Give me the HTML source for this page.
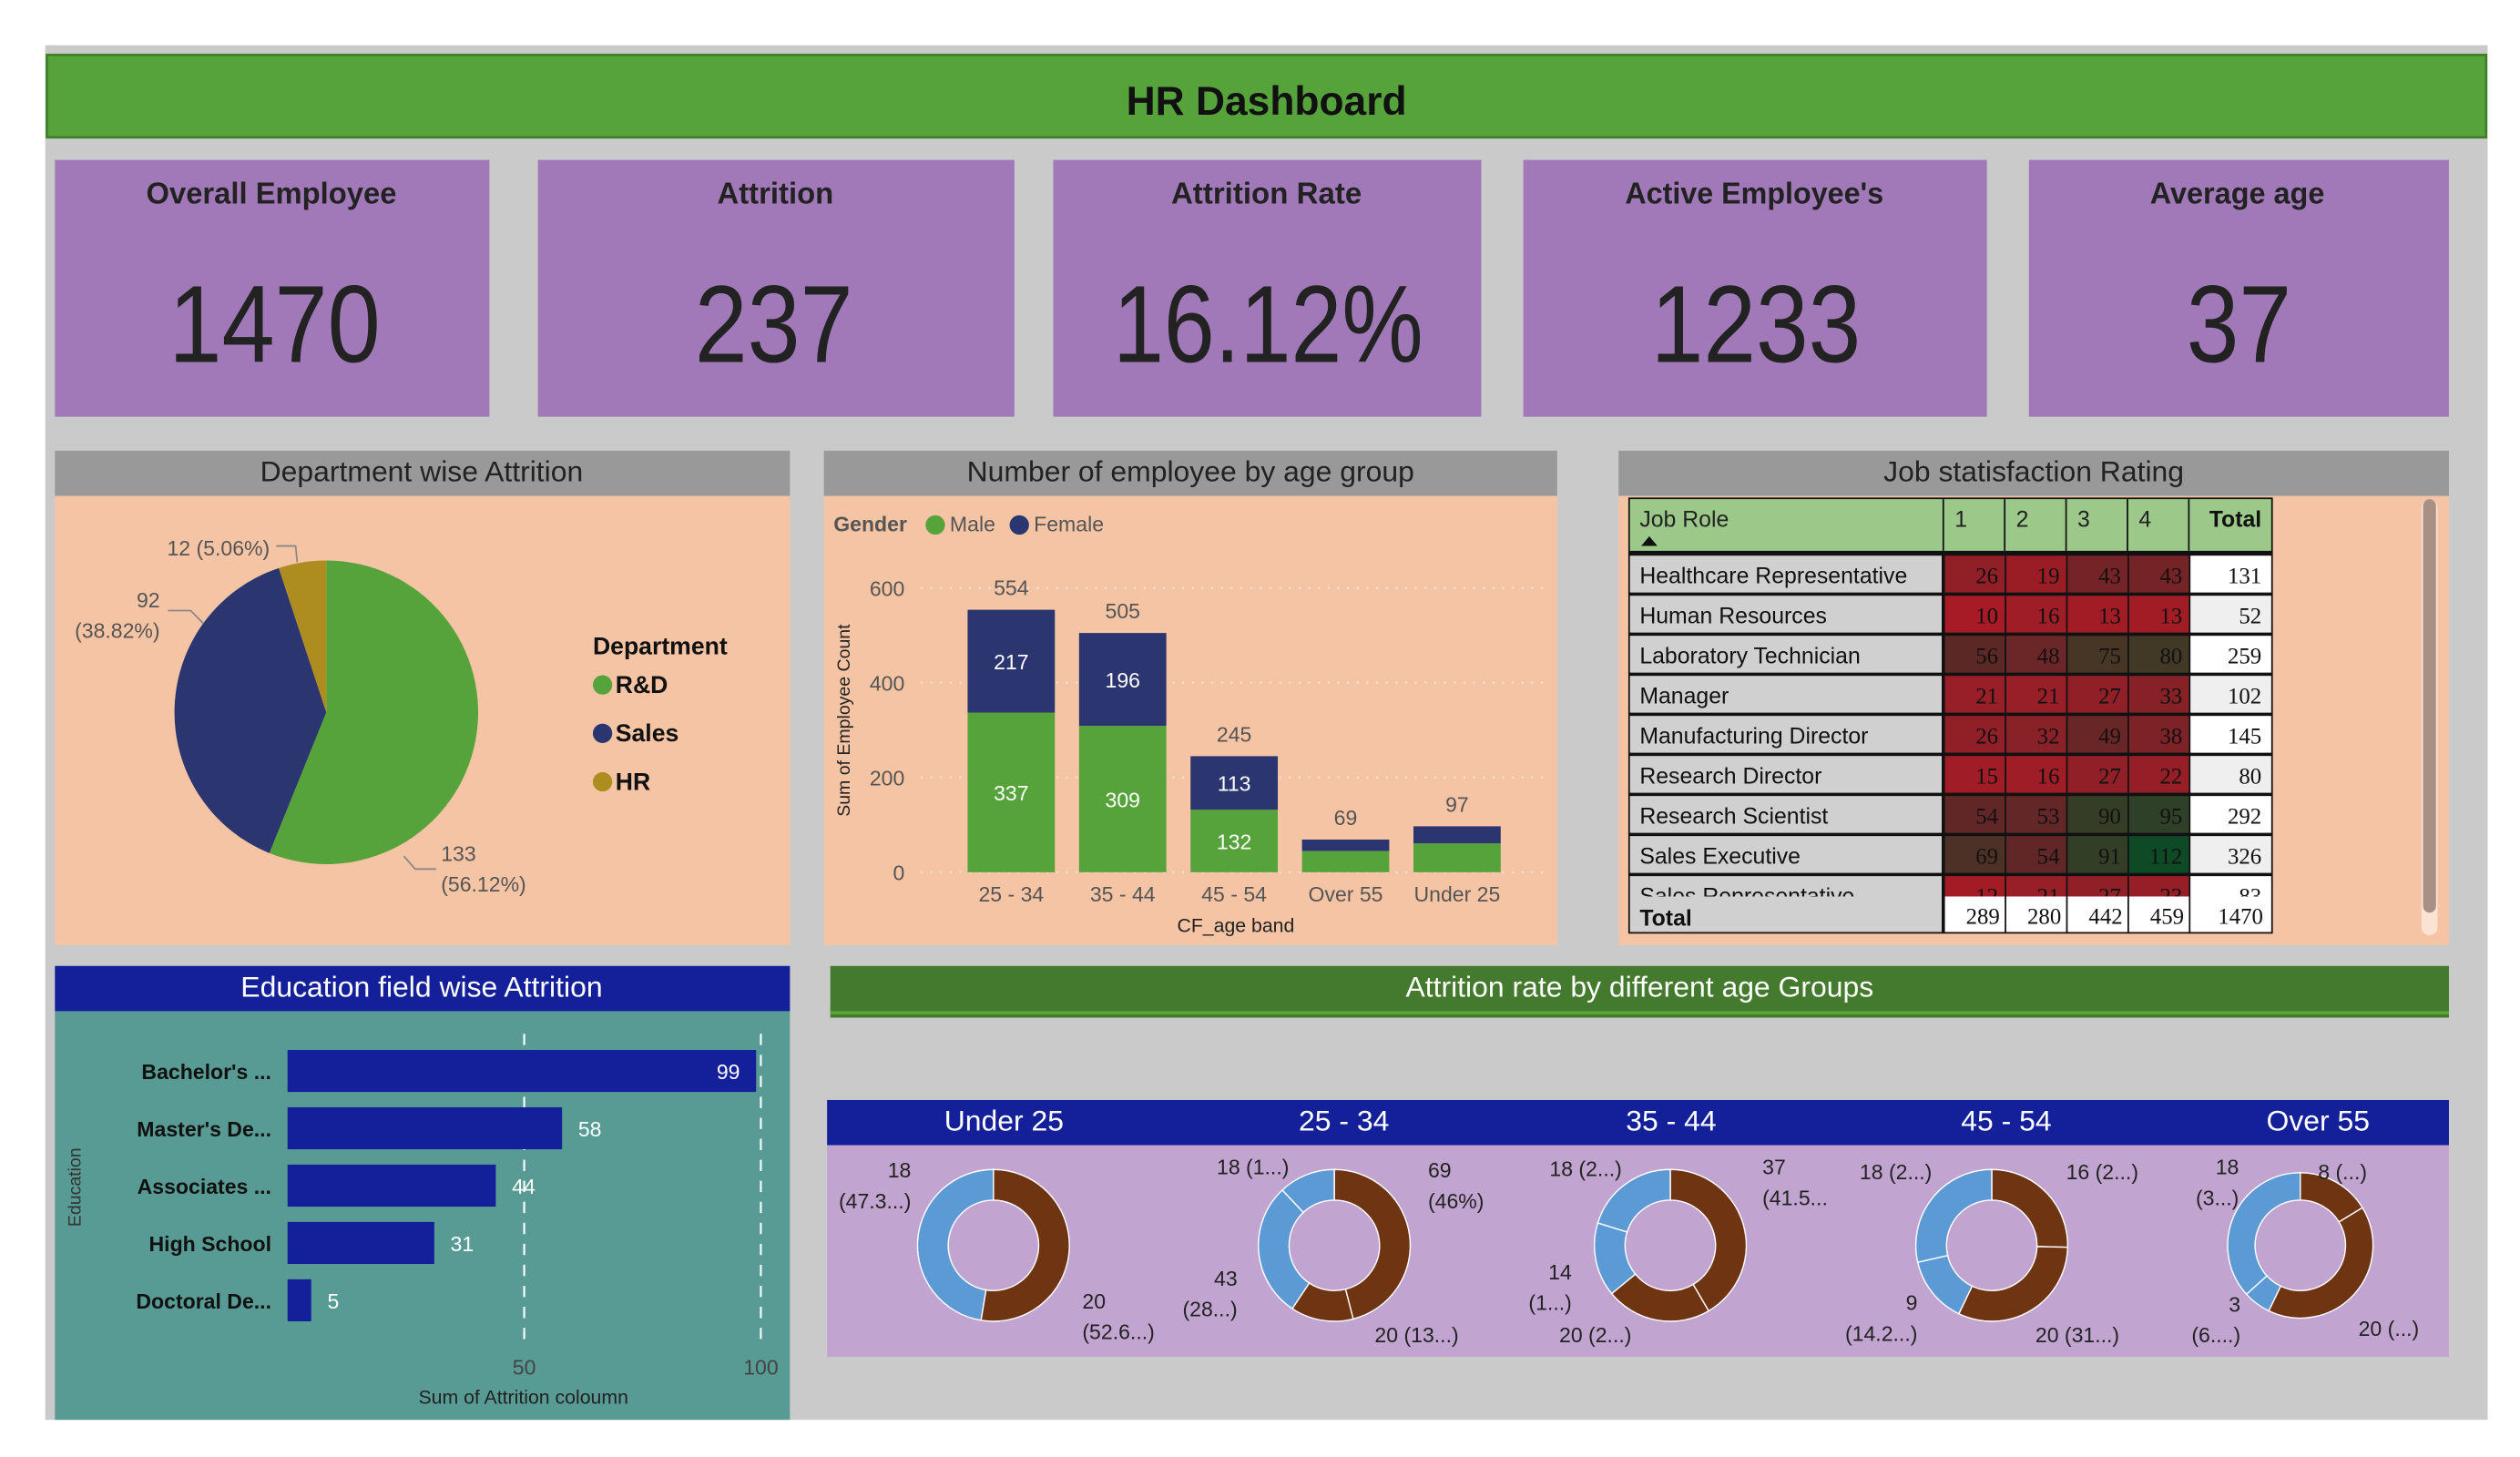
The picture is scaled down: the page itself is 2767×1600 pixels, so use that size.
<!DOCTYPE html>
<html><head><meta charset="utf-8"><title>HR Dashboard</title>
<style>
html,body{margin:0;padding:0;background:#fff;width:2767px;height:1600px;overflow:hidden}
svg{display:block;font-family:"Liberation Sans",sans-serif}
</style></head>
<body>
<svg id="dash" xmlns="http://www.w3.org/2000/svg" width="2767" height="1600" viewBox="0 0 1560 902" preserveAspectRatio="none">
  <rect x="28" y="28" width="1512" height="851" fill="#cacaca"/>
  <g>
    <rect x="29" y="34" width="1510" height="51" fill="#57a33b" stroke="#3f7f2a" stroke-width="1.5"/>
    <text x="784" y="71" text-anchor="middle" font-size="25" font-weight="bold" fill="#111">HR Dashboard</text>
  </g>
  <g>
    <rect x="34" y="99" width="269" height="159" fill="#a279b8"/>
    <text x="168" y="126" text-anchor="middle" font-size="19" font-weight="bold" fill="#222" textLength="155" lengthAdjust="spacingAndGlyphs">Overall Employee</text>
    <text x="170" y="224" text-anchor="middle" font-size="68" fill="#222" textLength="131" lengthAdjust="spacingAndGlyphs">1470</text>
  </g>
  <g>
    <rect x="333" y="99" width="295" height="159" fill="#a279b8"/>
    <text x="480" y="126" text-anchor="middle" font-size="19" font-weight="bold" fill="#222" textLength="72" lengthAdjust="spacingAndGlyphs">Attrition</text>
    <text x="479" y="224" text-anchor="middle" font-size="68" fill="#222" textLength="98" lengthAdjust="spacingAndGlyphs">237</text>
  </g>
  <g>
    <rect x="652" y="99" width="265" height="159" fill="#a279b8"/>
    <text x="784" y="126" text-anchor="middle" font-size="19" font-weight="bold" fill="#222" textLength="118" lengthAdjust="spacingAndGlyphs">Attrition Rate</text>
    <text x="785" y="224" text-anchor="middle" font-size="68" fill="#222" textLength="192" lengthAdjust="spacingAndGlyphs">16.12%</text>
  </g>
  <g>
    <rect x="943" y="99" width="287" height="159" fill="#a279b8"/>
    <text x="1086" y="126" text-anchor="middle" font-size="19" font-weight="bold" fill="#222" textLength="160" lengthAdjust="spacingAndGlyphs">Active Employee's</text>
    <text x="1087" y="224" text-anchor="middle" font-size="68" fill="#222" textLength="130" lengthAdjust="spacingAndGlyphs">1233</text>
  </g>
  <g>
    <rect x="1256" y="99" width="260" height="159" fill="#a279b8"/>
    <text x="1385" y="126" text-anchor="middle" font-size="19" font-weight="bold" fill="#222" textLength="108" lengthAdjust="spacingAndGlyphs">Average age</text>
    <text x="1386" y="224" text-anchor="middle" font-size="68" fill="#222" textLength="65" lengthAdjust="spacingAndGlyphs">37</text>
  </g>

  <g id="deptPanel">
    <rect x="34" y="307" width="455" height="278" fill="#f5c4a4"/>
    <rect x="34" y="279" width="455" height="28" fill="#999"/>
    <text x="261" y="298" text-anchor="middle" font-size="18" fill="#222">Department wise Attrition</text>
    <text x="367" y="405" font-size="15" font-weight="bold" fill="#111">Department</text>
  </g>
  <g id="agePanel">
    <rect x="510" y="307" width="454" height="278" fill="#f5c4a4"/>
    <rect x="510" y="279" width="454" height="28" fill="#999"/>
    <text x="737" y="298" text-anchor="middle" font-size="18" fill="#222">Number of employee by age group</text>
    <text x="516" y="329" font-size="13" font-weight="bold" fill="#555">Gender</text>
    <circle cx="579" cy="325" r="6" fill="#57a33b"/>
    <text x="588" y="329" font-size="13" fill="#555">Male</text>
    <circle cx="631" cy="325" r="6" fill="#2b3570"/>
    <text x="640" y="329" font-size="13" fill="#555">Female</text>
    <text transform="translate(526,446) rotate(-90)" text-anchor="middle" font-size="11" fill="#222">Sum of Employee Count</text>
    <text x="765" y="577" text-anchor="middle" font-size="12" fill="#222">CF_age band</text>
  </g>
  <g id="jobPanel">
    <rect x="1002" y="307" width="514" height="278" fill="#f5c4a4"/>
    <rect x="1002" y="279" width="514" height="28" fill="#999"/>
    <text x="1259" y="298" text-anchor="middle" font-size="18" fill="#222">Job statisfaction Rating</text>
    <rect x="1499" y="309" width="10" height="270" rx="5" fill="#fbe3d4"/>
    <rect x="1500" y="309" width="8" height="256" rx="4" fill="#a89184"/>
  </g>
  <g id="eduPanel">
    <rect x="34" y="626" width="455" height="253" fill="#589a94"/>
    <rect x="34" y="598" width="455" height="28" fill="#13209a"/>
    <text x="261" y="617" text-anchor="middle" font-size="18" fill="#fff">Education field wise Attrition</text>
    <text transform="translate(50,735) rotate(-90)" text-anchor="middle" font-size="11" fill="#333">Education</text>
    <text x="324" y="869" text-anchor="middle" font-size="12" fill="#222">Sum of Attrition coloumn</text>
  </g>
  <g>
    <rect x="514" y="598" width="1002" height="32" fill="#437a2d"/>
    <rect x="514" y="626" width="1002" height="2" fill="#5aa83a"/>
    <text x="1015" y="617" text-anchor="middle" font-size="18" fill="#fff">Attrition rate by different age Groups</text>
  </g>
  <g id="donutPanel">
    <rect x="512" y="681" width="1004" height="28" fill="#13209a"/>
    <rect x="512" y="709" width="1004" height="131" fill="#c2a4d0"/>
  </g>
</svg>
<script>
// ---------- data ----------
const deptNames = ['R&D', 'Sales', 'HR'];
const deptValues = [133, 92, 12];
const deptLabels = ['133|(56.12%)', '92|(38.82%)', '12 (5.06%)'];

const ageBands = ['25 - 34', '35 - 44', '45 - 54', 'Over 55', 'Under 25'];
const maleCounts = [337, 309, 132, 45, 61];
const femaleCounts = [217, 196, 113, 24, 36];
const ageTicks = [0, 200, 400, 600];

const jobRoles = ['Healthcare Representative', 'Human Resources', 'Laboratory Technician', 'Manager', 'Manufacturing Director', 'Research Director', 'Research Scientist', 'Sales Executive', 'Sales Representative'];
const sat1 = [26, 10, 56, 21, 26, 15, 54, 69, 12];
const sat2 = [19, 16, 48, 21, 32, 16, 53, 54, 21];
const sat3 = [43, 13, 75, 27, 49, 27, 90, 91, 27];
const sat4 = [43, 13, 80, 33, 38, 22, 95, 112, 23];
const satHeaders = ['1', '2', '3', '4'];

const eduFields = ["Bachelor's ...", "Master's De...", 'Associates ...', 'High School', 'Doctoral De...'];
const eduValues = [99, 58, 44, 31, 5];
const eduTicks = [50, 100];

const donutGroups = ['Under 25', '25 - 34', '35 - 44', '45 - 54', 'Over 55'];
const donutValues = [[20, 18], [69, 20, 43, 18], [37, 20, 14, 18], [16, 20, 9, 18], [8, 20, 3, 18]];
const donutLabels = [['20|(52.6...)', '18|(47.3...)'], ['69|(46%)', '20 (13...)', '43|(28...)', '18 (1...)'], ['37|(41.5...', '20 (2...)', '14|(1...)', '18 (2...)'], ['16 (2...)', '20 (31...)', '9|(14.2...)', '18 (2...)'], ['8 (...)', '20 (...)', '3|(6....)', '18|(3...)']];
const donutKinds = [['yes', 'no'], ['yes', 'yes', 'no', 'no'], ['yes', 'yes', 'no', 'no'], ['yes', 'yes', 'no', 'no'], ['yes', 'yes', 'no', 'no']];

// label anchor positions (layout, not data): [x, y, anchor]
const pieLabelPos = [[273, 533, 'start'], [99, 376, 'end'], [167, 344, 'end']];
const donutLabelPos = [
  [[670, 810, 'start'], [564, 729, 'end']],
  [[884, 729, 'start'], [851, 831, 'start'], [766, 796, 'end'], [798, 727, 'end']],
  [[1091, 727, 'start'], [1010, 831, 'end'], [973, 792, 'end'], [1004, 728, 'end']],
  [[1279, 730, 'start'], [1260, 831, 'start'], [1187, 811, 'end'], [1196, 730, 'end']],
  [[1435, 730, 'start'], [1460, 827, 'start'], [1387, 812, 'end'], [1386, 727, 'end']]
];

// ---------- helpers ----------
const NS = 'http://www.w3.org/2000/svg';
const svg = document.getElementById('dash');
function el(tag, attrs, parent) {
  const e = document.createElementNS(NS, tag);
  for (const k in attrs) e.setAttribute(k, attrs[k]);
  (parent || svg).appendChild(e);
  return e;
}
function txt(x, y, s, size, fill, anchor, parent, weight) {
  const t = el('text', {x: x, y: y, 'font-size': size, fill: fill, 'text-anchor': anchor || 'start', 'font-weight': weight || 'normal'}, parent);
  t.textContent = s;
  return t;
}
function arcPath(cx, cy, r, ri, a0, a1) {
  const p = (a, rr) => [cx + rr * Math.cos(a), cy + rr * Math.sin(a)];
  const large = (a1 - a0) > Math.PI ? 1 : 0;
  const [x0, y0] = p(a0, r), [x1, y1] = p(a1, r);
  if (!ri) return `M${cx},${cy} L${x0},${y0} A${r},${r} 0 ${large} 1 ${x1},${y1} Z`;
  const [x2, y2] = p(a1, ri), [x3, y3] = p(a0, ri);
  return `M${x0},${y0} A${r},${r} 0 ${large} 1 ${x1},${y1} L${x2},${y2} A${ri},${ri} 0 ${large} 0 ${x3},${y3} Z`;
}
function multiLabel(str, pos, size, fill, parent, name) {
  const lines = str.split('|');
  lines.forEach((ln, k) => {
    const t = txt(pos[0], pos[1] + k * 19, ln, size, fill, pos[2], parent);
    
    
  });
}

// ---------- pie ----------
(function () {
  const g = document.getElementById('deptPanel');
  const cx = 202, cy = 441, r = 94;
  const colors = ['#57a33b', '#2b3570', '#ad8c20'];
  const total = deptValues.reduce((a, b) => a + b, 0);
  let a = -Math.PI / 2;
  deptValues.forEach((v, i) => {
    const a1 = a + v / total * Math.PI * 2;
    const s = el('path', {d: arcPath(cx, cy, r, 0, a, a1), fill: colors[i]}, g);
    
    
    multiLabel(deptLabels[i], pieLabelPos[i], 13, '#555', g, 'pie-label');
    a = a1;
    const ly2 = 429 + i * 30;
    const dot = el('circle', {cx: 373, cy: ly2 - 5, r: 6, fill: colors[i]}, g);
    
    
    const lt = txt(381, ly2, deptNames[i], 15, '#111', 'start', g, 'bold');
    
    
  });
  el('polyline', {points: '171,338 183,338 184,348', fill: 'none', stroke: '#888', 'stroke-width': 1}, g);
  el('polyline', {points: '104,378 118,378 126,386', fill: 'none', stroke: '#888', 'stroke-width': 1}, g);
  el('polyline', {points: '250,530 257,538 270,538', fill: 'none', stroke: '#888', 'stroke-width': 1}, g);
})();

// ---------- stacked bars ----------
(function () {
  const g = document.getElementById('agePanel');
  const y = v => 540 - v * 176 / 600;
  const x0 = 599, step = 69, bw = 54;
  ageTicks.forEach(t => {
    const gl = el('line', {x1: 570, x2: 958, y1: y(t), y2: y(t), stroke: '#e9e9e9', 'stroke-dasharray': '1 5', 'stroke-width': 1.2}, g);
    
    
    const tl = txt(560, y(t) + 5, String(t), 13, '#555', 'end', g);
    
    
  });
  ageBands.forEach((b, i) => {
    const x = x0 + i * step;
    const m = maleCounts[i], f = femaleCounts[i];
    const rm = el('rect', {x: x, y: y(m), width: bw, height: y(0) - y(m), fill: '#57a33b'}, g);
    
    
    const rf = el('rect', {x: x, y: y(m + f), width: bw, height: y(m) - y(m + f), fill: '#2b3570'}, g);
    
    
    if (y(0) - y(m) > 25) {
      const t = txt(x + bw / 2, (y(0) + y(m)) / 2 + 5, String(m), 13, '#fff', 'middle', g);
      
      
    }
    if (y(m) - y(m + f) > 25) {
      const t = txt(x + bw / 2, (y(m) + y(m + f)) / 2 + 5, String(f), 13, '#fff', 'middle', g);
      
      
    }
    const tt = txt(x + bw / 2, y(m + f) - 9, String(m + f), 13, '#555', 'middle', g);
    
    
    const xl = txt(x + bw / 2, 558, b, 13, '#555', 'middle', g);
    
    
  });
})();

// ---------- matrix ----------
(function () {
  const g = document.getElementById('jobPanel');
  const cols = [1008, 1203, 1241, 1279, 1317, 1355, 1407];
  const sats = [sat1, sat2, sat3, sat4];
  function heat(v) {
    const stops = [[10, [166, 27, 37]], [30, [140, 32, 40]], [56, [92, 40, 38]], [80, [66, 56, 38]], [95, [46, 64, 40]], [112, [14, 74, 38]]];
    for (let k = 0; k < stops.length - 1; k++) {
      const [v0, c0] = stops[k], [v1, c1] = stops[k + 1];
      if (v <= v1) {
        const t = Math.max(0, (v - v0) / (v1 - v0));
        return 'rgb(' + c0.map((c, j) => Math.round(c + (c1[j] - c) * t)).join(',') + ')';
      }
    }
    return 'rgb(14,74,38)';
  }
  el('rect', {x: 1008, y: 308, width: 399, height: 270, fill: '#111'}, g);
  const hdr = el('rect', {x: 1009, y: 309, width: 397, height: 32, fill: '#9cc88a'}, g);
  
  
  for (let c = 1; c < 6; c++) el('line', {x1: cols[c], x2: cols[c], y1: 309, y2: 341, stroke: '#111', 'stroke-width': 1}, g);
  const h0 = txt(1015, 326, 'Job Role', 14, '#222', 'start', g);
  
  
  el('path', {d: 'M1016,338 L1021,332 L1026,338 Z', fill: '#111'}, g);
  satHeaders.forEach((h, i) => {
    const t = txt(cols[i + 1] + 7, 326, h, 14, '#222', 'start', g);
    
    
  });
  const ht = txt(1400, 326, 'Total', 14, '#111', 'end', g, 'bold');
  
  
  const clip = el('clipPath', {id: 'bodyclip'}, g);
  el('rect', {x: 1008, y: 342, width: 400, height: 213}, clip);
  const body = el('g', {'clip-path': 'url(#bodyclip)'}, g);
  const rh = 24.8;
  jobRoles.forEach((role, r) => {
    const y = 343 + r * rh;
    const lab = el('rect', {x: 1009, y: y + 1, width: 193, height: rh - 2, fill: '#d0d0d0'}, body);
    
    
    const rt = txt(1015, y + 18, role, 14, '#111', 'start', body);
    
    
    let tot = 0;
    sats.forEach((arr, c) => {
      const v = arr[r]; tot += v;
      const cell = el('rect', {x: cols[c + 1] + 1, y: y + 1, width: cols[c + 2] - cols[c + 1] - 1, height: rh - 2, fill: heat(v)}, body);
      
      
      const ct = txt(cols[c + 2] - 4, y + 18, String(v), 14, '#111', 'end', body);
      ct.setAttribute('font-family', 'Liberation Serif, serif');
      
      
    });
    el('rect', {x: 1356, y: y + 1, width: 50, height: rh - 2, fill: r % 2 ? '#efefef' : '#fff'}, body);
    const tt = txt(1400, y + 18, String(tot), 14, '#111', 'end', body);
    tt.setAttribute('font-family', 'Liberation Serif, serif');
    
    
  });
  const ty = 555;
  el('rect', {x: 1009, y: ty, width: 193, height: 22, fill: '#d0d0d0'}, g);
  const tl = txt(1015, ty + 18, 'Total', 14, '#111', 'start', g, 'bold');
  
  
  let grand = 0;
  sats.forEach((arr, c) => {
    const s = arr.reduce((a, b) => a + b, 0); grand += s;
    el('rect', {x: cols[c + 1] + 1, y: ty, width: cols[c + 2] - cols[c + 1] - 1, height: 22, fill: '#fff'}, g);
    const t = txt(cols[c + 2] - 3, ty + 17, String(s), 14, '#111', 'end', g);
    t.setAttribute('font-family', 'Liberation Serif, serif');
    
    
  });
  el('rect', {x: 1356, y: ty, width: 50, height: 22, fill: '#fff'}, g);
  const gt = txt(1401, ty + 17, String(grand), 14, '#111', 'end', g);
  gt.setAttribute('font-family', 'Liberation Serif, serif');
  
  
})();

// ---------- education bars ----------
(function () {
  const g = document.getElementById('eduPanel');
  const x = v => 178 + v * 2.93;
  eduTicks.forEach(t => {
    const gl = el('line', {x1: x(t), x2: x(t), y1: 640, y2: 832, stroke: '#fff', 'stroke-dasharray': '7 6', 'stroke-width': 1.2}, g);
    
    
    const tl = txt(x(t), 851, String(t), 13, '#444', 'middle', g);
    
    
  });
  eduFields.forEach((f, i) => {
    const y = 650 + i * 35.5;
    const b = el('rect', {x: 178, y: y, width: x(eduValues[i]) - 178, height: 26, fill: '#13209a'}, g);
    
    
    const l = txt(168, y + 18, f, 13, '#111', 'end', g, 'bold');
    
    
    const ex = x(eduValues[i]);
    const inside = ex > 440;
    const v = txt(inside ? ex - 10 : ex + 10, y + 18, String(eduValues[i]), 13, '#fff', inside ? 'end' : 'start', g);
    
    
  });
})();

// ---------- donuts ----------
(function () {
  const g = document.getElementById('donutPanel');
  const sections = [[512, 725], [725, 933], [933, 1130], [1130, 1348], [1348, 1516]];
  const centers = [615, 826, 1034, 1233, 1424];
  donutGroups.forEach((name, d) => {
    const [s0, s1] = sections[d];
    const h = txt((s0 + s1) / 2 + 3, 700, name, 18, '#fff', 'middle', g);
    
    
    const cx = centers[d], cy = 771, r = d === 4 ? 45 : 47, ri = 28;
    const vals = donutValues[d];
    const total = vals.reduce((a, b) => a + b, 0);
    let a = -Math.PI / 2;
    vals.forEach((v, i) => {
      const a1 = a + v / total * Math.PI * 2;
      const seg = el('path', {d: arcPath(cx, cy, r, ri, a, a1), fill: donutKinds[d][i] === 'yes' ? '#6f3411' : '#5b9ad4', stroke: '#fff', 'stroke-width': 0.8}, g);
      
      
      multiLabel(donutLabels[d][i], donutLabelPos[d][i], 13, '#222', g, 'donut-label');
      a = a1;
    });
  });
})();
</script>
</body></html>
